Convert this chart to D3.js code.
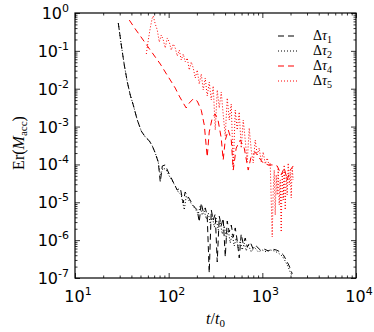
<!DOCTYPE html>
<html>
<head>
<meta charset="utf-8">
<script src="https://cdn.jsdelivr.net/npm/d3@7"></script>
<style>
  body { margin: 0; background: #fff; }
  svg { display: block; }
  .tick line { stroke: #000; }
  .domain { stroke: none; }
</style>
</head>
<body>
<script>

// series: [t/t0, Er(M_acc)]
var tau1 = [[29,0.54],[31.2,0.143],[33.6,0.042],[36.2,0.015],[38.9,6.8e-3],[41.9,3.7e-3],[46.2,1.5e-3],[51,7.6e-4],
  [56.3,5.3e-4],[62.1,4.2e-4],[66.8,3.1e-4],[71.9,2.0e-4],[77.4,1.16e-4],[81.4,3.4e-5],[85.5,9.1e-5],[91.9,9.7e-5],
  [99,6.3e-5],[106.6,4.4e-5],[114.7,3.0e-5],[123.5,2.1e-5],[133,2.4e-5],[143,9.6e-6],[150,1.87e-5],[162,1.38e-5],
  [174,1.02e-5],[188,7.5e-6],[202,6.3e-6],[212,3.0e-6],[223,9.6e-6],[234,5.5e-6],[246,7.1e-6],[258,4.3e-6],
  [271,1.36e-7],[285,6.3e-6],[299,3.4e-6],[314,4.9e-6],[330,2.65e-7],[347,4.3e-6],[364,2.4e-6],[382,3.8e-6],
  [402,3.6e-7],[422,3.2e-6],[443,1.64e-6],[466,2.5e-6],[489,1.21e-6],[514,2.1e-6],[540,9.5e-7],[567,3.4e-7],
  [595,1.45e-6],[625,7.9e-7],[657,1.14e-6],[690,6.6e-7],[743,8.9e-7],[799,5.8e-7],[861,7.0e-7],[950,5.5e-7],
  [1048,5.8e-7],[1156,5.2e-7],[1275,5.8e-7],[1407,5.5e-7],[1552,4.9e-7],[1671,4.1e-7],[1799,3.0e-7],
  [1936,2.08e-7],[2034,1.53e-7],[2084,1.28e-7]];

var tau2 = [[29,0.54],[31.2,0.143],[33.6,0.042],[36.2,0.015],[38.9,6.8e-3],[41.9,3.7e-3],[46.2,1.5e-3],[51,7.6e-4],
  [56.3,5.3e-4],[62.1,4.2e-4],[66.8,3.1e-4],[71.9,2.0e-4],[77.4,1.16e-4],[81.4,5.3e-5],[87.6,8.1e-5],[94.3,7.1e-5],
  [101.5,4.95e-5],[109.2,3.66e-5],[117.6,2.7e-5],[126.6,1.87e-5],[136.2,1.56e-5],[146.7,6.3e-6],[154,1.47e-5],
  [166,1.08e-5],[178.6,8.5e-6],[192,6.7e-6],[207,4.9e-6],[217,8.0e-6],[228,4.6e-6],[240,5.9e-6],[252,3.6e-6],
  [265,5.2e-6],[278,2.7e-6],[292,4.3e-6],[307,2.2e-6],[322,3.8e-6],[338,1.85e-6],[355,3.0e-6],[373,1.45e-6],
  [392,2.4e-6],[412,1.14e-6],[433,1.85e-6],[454,8.4e-7],[477,1.45e-6],[501,7.0e-7],[526,1.14e-6],[553,6.2e-7],
  [581,9.5e-7],[610,5.5e-7],[641,8.4e-7],[673,5.2e-7],[707,7.5e-7],[761,4.9e-7],[819,6.6e-7],[904,4.9e-7],
  [997,5.5e-7],[1100,4.9e-7],[1214,5.5e-7],[1339,5.2e-7],[1477,4.6e-7],[1631,3.8e-7],[1755,2.8e-7],
  [1890,1.95e-7],[1985,1.44e-7],[2084,1.13e-7]];

var tau4 = [[38,0.65],[44,0.378],[49.8,0.247],[56.3,0.161],[63.6,0.105],[71.9,0.0688],[81.4,0.045],[91.9,0.0276],
  [104,0.017],[117.6,0.0104],[129.8,6.4e-3],[143,4.2e-3],[154,3.1e-3],[166,4.2e-3],[183,5.4e-3],[202,4.7e-3],
  [223,2.7e-3],[240,1.1e-3],[258,1.57e-4],[271,7.2e-4],[292,1.69e-3],[314,2.15e-3],[338,1.4e-3],[364,5.0e-4],
  [382,1.31e-4],[402,4.4e-4],[433,8.1e-4],[466,4.4e-4],[489,7.1e-5],[526,2.7e-4],[581,4.4e-4],[641,2.7e-4],
  [707,7.1e-5],[761,1.67e-4],[840,2.1e-4],[926,1.48e-4],[1022,1.09e-4],[1156,9.7e-5],[1307,9.7e-5],[1442,9.1e-5],
  [1591,5.3e-5],[1712,8.1e-5],[1843,3.9e-5],[1985,7.1e-5],[2136,9.1e-5]];

var tau5 = [[57.7,0.0826],[60.6,0.194],[63.6,0.402],[66.8,0.738],[68.5,0.833],[71.9,0.512],[75.6,0.356],[79.4,0.171],
  [83.4,0.262],[87.6,0.194],[91.9,0.119],[96.6,0.219],[101.5,0.171],[106.6,0.105],[112,0.152],[117.6,0.119],
  [123.5,0.0731],[129.8,0.105],[136.3,0.0574],[143.2,0.0826],[150.4,0.0508],[157.9,0.0648],[165.9,0.0312],
  [174.2,0.0508],[183,0.0353],[192.2,0.0192],[201.9,0.0312],[212.1,0.0133],[222.8,0.0245],[234,9.25e-3],
  [245.7,0.0192],[258.2,6.42e-3],[271.2,0.015],[284.8,5.04e-3],[299.2,0.0118],[314.3,8.12e-4],[330.1,9.25e-3],
  [346.7,3.1e-3],[364.2,8.19e-3],[382.5,2.02e-3],[401.8,5.64e-4],[422,5.69e-3],[443.3,1.49e-3],[465.6,3.95e-3],
  [489,8.1e-5],[513.7,2.74e-3],[539.5,8.12e-4],[566.7,2.43e-3],[595.2,2.72e-4],[625.3,1.49e-3],[656.7,4.42e-4],
  [689.9,1.16e-4],[724.6,9.18e-4],[761,2.41e-4],[799.5,1.09e-4],[839.7,4.42e-4],[882.1,1.78e-4],[926.5,2.72e-4],
  [973.2,1.16e-4],[1022,2.13e-4],[1074,1.03e-4],[1128,1.48e-4],[1185,9.1e-5],[1214,1.09e-4],[1244,1.15e-5],
  [1275,1.21e-6],[1307,2.11e-5],[1340,7.1e-5],[1373,4.6e-6],[1407,5.3e-5],[1442,1.56e-5],[1478,8.1e-5],
  [1514,8.5e-6],[1552,3.9e-5],[1591,1.64e-6],[1630,6.3e-5],[1671,1.15e-5],[1712,9.7e-5],[1755,6.3e-6],
  [1799,5.3e-5],[1843,1.56e-5],[1889,1.09e-4],[1936,2.86e-5],[1985,6.3e-5],[2033,1.3e-5],[2084,8.1e-5],[2136,3.9e-5]];

var legendNames = ["1", "2", "4", "5"];
var xTickExps = [1, 2, 3, 4];
var yTickExps = [0, -1, -2, -3, -4, -5, -6, -7];

var W = 374, H = 332;
var margin = {left: 75, right: 18, top: 13, bottom: 54};
var width = W - margin.left - margin.right;
var height = H - margin.top - margin.bottom;

var x = d3.scaleLog().domain([10, 1e4]).range([0, width]);
var y = d3.scaleLog().domain([1e-7, 1]).range([height, 0]);

var svg = d3.select("body").append("svg").attr("width", W).attr("height", H);
var g = svg.append("g").attr("transform", "translate(" + margin.left + "," + margin.top + ")");

svg.append("defs").append("clipPath").attr("id", "clip")
  .append("rect").attr("width", width).attr("height", height);

// minor tick values
var xMinor = [], yMinor = [];
xTickExps.slice(0, 3).forEach(function(e){ for (var k = 2; k < 10; k++) xMinor.push(k * Math.pow(10, e)); });
yTickExps.slice(1).forEach(function(e){ for (var k = 2; k < 10; k++) yMinor.push(k * Math.pow(10, e)); });
var xMajor = xTickExps.map(function(e){ return Math.pow(10, e); });
var yMajor = yTickExps.map(function(e){ return Math.pow(10, e); });

function addAxis(axisFn, scale, vals, size, tr) {
  var a = g.append("g").attr("transform", tr)
    .call(axisFn(scale).tickValues(vals).tickSize(size).tickFormat(""));
  a.selectAll(".tick line").attr("stroke-width", 0.8);
}
[[xMajor, -5], [xMinor, -2.5]].forEach(function(p){
  addAxis(d3.axisBottom, x, p[0], p[1], "translate(0," + height + ")");
  addAxis(d3.axisTop, x, p[0], p[1], "translate(0,0)");
});
[[yMajor, -5], [yMinor, -2.5]].forEach(function(p){
  addAxis(d3.axisLeft, y, p[0], p[1], "translate(0,0)");
  addAxis(d3.axisRight, y, p[0], p[1], "translate(" + width + ",0)");
});

var lines = g.append("g").attr("clip-path", "url(#clip)");
var line = d3.line().x(function(d){ return x(d[0]); }).y(function(d){ return y(d[1]); });

var styles = [
  {data: tau1, color: "#000", dash: "6,4"},
  {data: tau2, color: "#000", dash: "1,2"},
  {data: tau4, color: "#ff0000", dash: "6,4"},
  {data: tau5, color: "#ff0000", dash: "1,2"}
];
styles.forEach(function(s){
  lines.append("path").datum(s.data)
    .attr("d", line)
    .attr("fill", "none")
    .attr("stroke", s.color)
    .attr("stroke-width", 1)
    .attr("stroke-dasharray", s.dash);
});

// frame
g.append("rect").attr("width", width).attr("height", height)
  .attr("fill", "none").attr("stroke", "#000").attr("stroke-width", 1.2);

// tick labels with superscripts
var tickFont = "DejaVu Sans, sans-serif";
xTickExps.forEach(function(e){
  var t = g.append("text")
    .attr("x", x(Math.pow(10, e)) + 3)
    .attr("y", height + 24)
    .attr("text-anchor", "middle")
    .attr("font-family", tickFont)
    .attr("font-size", 16);
  t.append("tspan").text("10");
  t.append("tspan").attr("dy", -7).attr("font-size", 11).text(e);
});
yTickExps.forEach(function(e){
  var t = g.append("text")
    .attr("x", -6)
    .attr("y", y(Math.pow(10, e)) + 6)
    .attr("text-anchor", "end")
    .attr("font-family", tickFont)
    .attr("font-size", 16);
  t.append("tspan").text("10");
  t.append("tspan").attr("dy", -7).attr("font-size", 11).text(e === 0 ? "0" : e);
});

// axis titles
var serif = "Liberation Serif, DejaVu Serif, serif";
var xt = svg.append("text")
  .attr("x", margin.left + width / 2)
  .attr("y", H - 8)
  .attr("text-anchor", "middle")
  .attr("font-family", serif)
  .attr("font-size", 16);
xt.append("tspan").attr("font-style", "italic").text("t");
xt.append("tspan").text("/");
xt.append("tspan").attr("font-style", "italic").text("t");
xt.append("tspan").attr("dy", 3).attr("font-size", 11).text("0");

var yt = svg.append("text")
  .attr("transform", "translate(24," + (margin.top + 130) + ") rotate(-90)")
  .attr("text-anchor", "middle")
  .attr("font-family", serif)
  .attr("font-size", 16);
yt.append("tspan").text("Er(");
yt.append("tspan").attr("font-style", "italic").text("M");
yt.append("tspan").attr("dy", 3).attr("font-size", 11).text("acc");
yt.append("tspan").attr("dy", -3).text(")");

// legend
var legend = svg.selectAll(".legend").data(styles)
  .enter().append("g")
  .attr("class", "legend")
  .attr("transform", function(d, i){ return "translate(278," + (36 + i * 15) + ")"; });
legend.append("line")
  .attr("x1", 0).attr("x2", 19)
  .attr("stroke", function(d){ return d.color; })
  .attr("stroke-width", 1.2)
  .attr("stroke-dasharray", function(d){ return d.dash; });
var lt = legend.append("text")
  .attr("x", 35).attr("y", 4)
  .attr("font-family", serif)
  .attr("font-size", 14);
lt.append("tspan").text("\u0394");
lt.append("tspan").attr("font-style", "italic").text("\u03c4");
lt.append("tspan").attr("dy", 3).attr("font-size", 10).text(function(d, i){ return legendNames[i]; });

</script>
</body>
</html>
